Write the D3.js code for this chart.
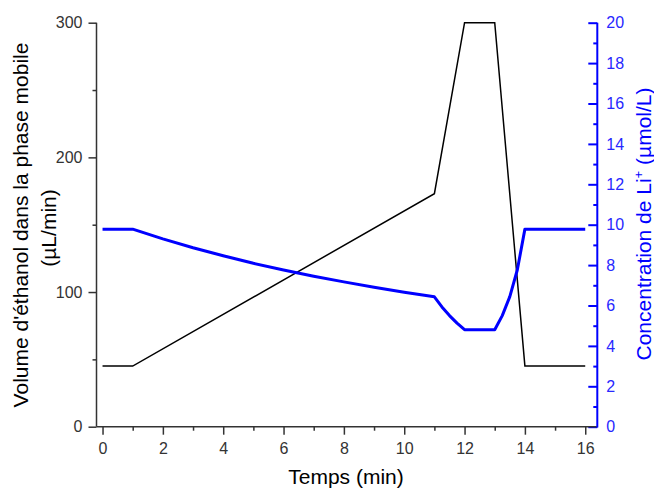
<!DOCTYPE html>
<html>
<head>
<meta charset="utf-8">
<script src="https://cdn.jsdelivr.net/npm/d3@7"></script>
<style>
  html, body { margin: 0; padding: 0; background: #fff; }
  svg { display: block; font-family: "Liberation Sans", Arial, sans-serif; }
</style>
</head>
<body>
<svg id="chart" width="654" height="489"></svg>
<script>
// ---- Data ----
const timeEthanol = [0, 1, 11, 12, 13, 14, 16];
const ethanolValues = [45, 45, 173, 300, 300, 45, 45];

const timeLi = [0, 1, 2, 3, 4, 5, 6, 7, 8, 9, 10, 11, 11.25, 11.5, 11.75, 12, 13, 13.25, 13.5, 13.75, 14, 16];
const liValues = [9.78, 9.78, 9.30, 8.86, 8.46, 8.09, 7.76, 7.45, 7.17, 6.90, 6.66, 6.43, 5.93, 5.50, 5.13, 4.80, 4.80, 5.50, 6.44, 7.77, 9.78, 9.78];

const xTicks = [0, 2, 4, 6, 8, 10, 12, 14, 16];
const xMinorTicks = [1, 3, 5, 7, 9, 11, 13, 15];
const yLeftTicks = [0, 100, 200, 300];
const yLeftMinorTicks = [50, 150, 250];
const yRightTicks = [0, 2, 4, 6, 8, 10, 12, 14, 16, 18, 20];
const yRightMinorTicks = [1, 3, 5, 7, 9, 11, 13, 15, 17, 19];

// ---- Layout ----
const pLeft = 96.5, pRight = 597.3, pTop = 22.7, pBottom = 426.7;
const svg = d3.select("#chart");

const x = d3.scaleLinear().domain([-0.2, 16.4]).range([pLeft, pRight]);
const yL = d3.scaleLinear().domain([0, 300]).range([pBottom, pTop]);
const yR = d3.scaleLinear().domain([0, 20]).range([pBottom, pTop]);

const gray = "#333333";
const blue = "#0000ff";
const tickFont = 16;
const titleFont = 21;

function styleAxis(g, color, fontSize) {
  g.select(".domain").remove();
  g.selectAll(".tick line").attr("stroke", color).attr("stroke-width", 1.5);
  g.selectAll(".tick text").attr("fill", color).attr("font-size", fontSize)
    .attr("font-family", "Liberation Sans, Arial, sans-serif");
}

// X axis
const gx = svg.append("g").attr("transform", `translate(0,${pBottom})`)
  .call(d3.axisBottom(x).tickValues(xTicks).tickSize(8).tickPadding(8).tickFormat(d3.format("d")));
styleAxis(gx, gray, tickFont);
const gxm = svg.append("g").attr("transform", `translate(0,${pBottom})`)
  .call(d3.axisBottom(x).tickValues(xMinorTicks).tickSize(4).tickFormat(""));
styleAxis(gxm, gray, tickFont);

// Left axis
const gyl = svg.append("g").attr("transform", `translate(${pLeft},0)`)
  .call(d3.axisLeft(yL).tickValues(yLeftTicks).tickSize(8).tickPadding(6).tickFormat(d3.format("d")));
styleAxis(gyl, gray, tickFont);
const gylm = svg.append("g").attr("transform", `translate(${pLeft},0)`)
  .call(d3.axisLeft(yL).tickValues(yLeftMinorTicks).tickSize(4).tickFormat(""));
styleAxis(gylm, gray, tickFont);

// Right axis (ticks pointing inward)
const gyr = svg.append("g").attr("transform", `translate(${pRight},0)`)
  .call(d3.axisRight(yR).tickValues(yRightTicks).tickSize(-9).tickPadding(9).tickFormat(d3.format("d")));
styleAxis(gyr, blue, tickFont);
gyr.selectAll(".tick line").attr("stroke-width", 2);
gyr.selectAll(".tick text").attr("fill", "#2828ff");
const gyrm = svg.append("g").attr("transform", `translate(${pRight},0)`)
  .call(d3.axisRight(yR).tickValues(yRightMinorTicks).tickSize(-4).tickFormat(""));
styleAxis(gyrm, blue, tickFont);
gyrm.selectAll(".tick line").attr("stroke-width", 2);

// Axis lines
svg.append("line").attr("x1", pLeft).attr("x2", pRight).attr("y1", pBottom).attr("y2", pBottom)
  .attr("stroke", gray).attr("stroke-width", 1.5);
svg.append("line").attr("x1", pLeft).attr("x2", pLeft).attr("y1", pTop).attr("y2", pBottom)
  .attr("stroke", gray).attr("stroke-width", 1.5);
svg.append("line").attr("x1", pRight).attr("x2", pRight).attr("y1", pTop).attr("y2", pBottom + 0.75)
  .attr("stroke", blue).attr("stroke-width", 2);

// Ethanol line
const ethData = timeEthanol.map((t, i) => [t, ethanolValues[i]]);
svg.append("path").datum(ethData)
  .attr("fill", "none").attr("stroke", "#000").attr("stroke-width", 1.5)
  .attr("stroke-linejoin", "miter")
  .attr("d", d3.line().x(d => x(d[0])).y(d => yL(d[1])));

// Li line
const liData = timeLi.map((t, i) => [t, liValues[i]]);
svg.append("path").datum(liData)
  .attr("fill", "none").attr("stroke", blue).attr("stroke-width", 3)
  .attr("stroke-linejoin", "round")
  .attr("d", d3.line().x(d => x(d[0])).y(d => yR(d[1])));

// Titles
svg.append("text").attr("x", 346).attr("y", 484)
  .attr("text-anchor", "middle").attr("font-size", titleFont).attr("fill", "#000")
  .text("Temps (min)");

svg.append("text").attr("transform", "translate(28,225) rotate(-90)")
  .attr("text-anchor", "middle").attr("font-size", titleFont).attr("fill", "#000")
  .text("Volume d'éthanol dans la phase mobile");
svg.append("text").attr("transform", "translate(56,228) rotate(-90)")
  .attr("text-anchor", "middle").attr("font-size", titleFont).attr("fill", "#000")
  .text("(µL/min)");

const rt = svg.append("text").attr("transform", "translate(651,224) rotate(-90)")
  .attr("text-anchor", "middle").attr("font-size", titleFont).attr("fill", blue);
rt.append("tspan").text("Concentration de Li");
rt.append("tspan").attr("font-size", 13).attr("dy", -8).text("+");
rt.append("tspan").attr("dy", 8).text(" (µmol/L)");
</script>
</body>
</html>
